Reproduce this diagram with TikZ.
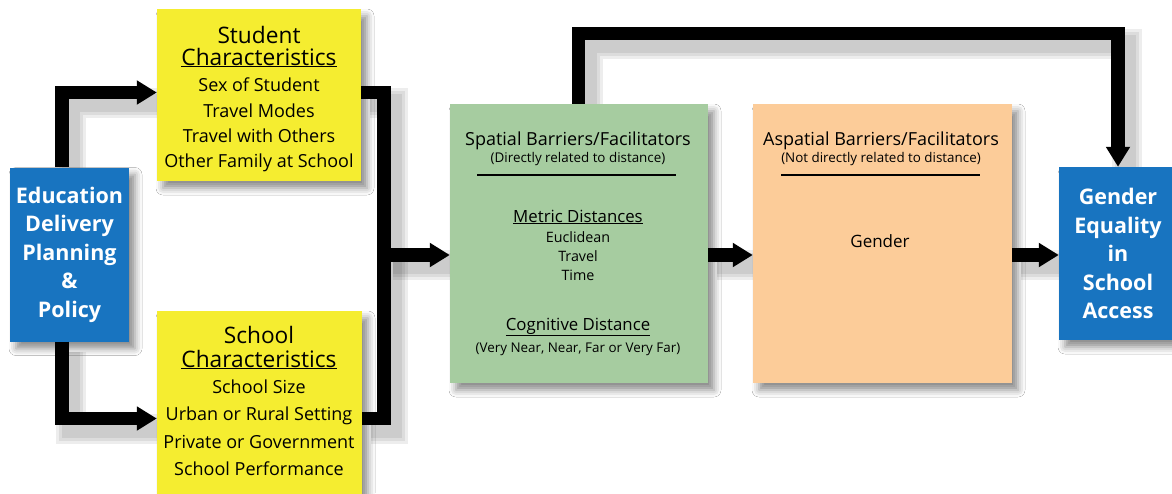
\documentclass[tikz,border=0pt]{standalone}
\usepackage{fontspec}
\setmainfont{Open Sans}
\usetikzlibrary{arrows.meta,shadows.blur}
\pgfdeclarelayer{back}
\pgfsetlayers{back,main}

\definecolor{policyblue}{RGB}{24,116,192}
\definecolor{charyellow}{RGB}{245,237,48}
\definecolor{spatialgreen}{RGB}{166,204,160}
\definecolor{aspatialorange}{RGB}{252,204,153}

\tikzset{
  box/.style={rectangle, inner sep=0pt, align=center,
    blur shadow={shadow xshift=6pt, shadow yshift=-7pt, shadow blur radius=7pt, shadow opacity=45}},
  bluebox/.style={box, fill=policyblue, text=white, font=\bfseries\fontsize{21.5}{28.5}\selectfont},
  boxtitle/.style={anchor=base, font=\fontsize{22.7}{24}\selectfont},
  item/.style={anchor=base, font=\fontsize{18}{20}\selectfont},
  heading/.style={anchor=base, font=\fontsize{18}{20}\selectfont},
  note/.style={anchor=base, font=\fontsize{13.4}{15}\selectfont},
  link/.style={line width=13.5pt, line join=miter},
  linkarrow/.style={link, -{Triangle[length=20pt,width=23pt]}},
  halo/.style={line width=#1pt, black, opacity=0.07, line join=miter},
}

% connectors: #1 plain lines, #2 lines with arrow tips
\newcommand\drawlinks[2]{%
  \draw[#2] ([xshift=-7.5pt]edu.north) |- ([yshift=2.5pt]stud.west);
  \draw[#2] ([xshift=-7.5pt]edu.south) |- ([yshift=-15.5pt]school.west);
  \draw[#1] ([yshift=2.5pt]stud.east) -| (join) |- ([yshift=-15.5pt]school.east);
  \draw[#2] (join) -- (spatial.west |- join);
  \draw[#2] (spatial.east |- join) -- (aspatial.west |- join);
  \draw[#2] (aspatial.east |- join) -- (gea.west |- join);
  \draw[#2] (spatial.north -| top) -- (top) -| (gea.north);
}

\begin{document}
\begin{tikzpicture}[x=1pt, y=-1pt]
\useasboundingbox (0,0) rectangle (1172,493);

% boxes
\node[bluebox, minimum width=119pt, minimum height=174pt] (edu) at (69.5,254.5)
  {Education\\Delivery\\Planning\\\&\\Policy};
\node[box, fill=charyellow, minimum width=204pt, minimum height=172pt] (stud) at (259,95) {};
\node[box, fill=charyellow, minimum width=205pt, minimum height=184pt] (school) at (259.5,403) {};
\node[box, fill=spatialgreen, minimum width=258pt, minimum height=279pt] (spatial) at (579,243.5) {};
\node[box, fill=aspatialorange, minimum width=259pt, minimum height=279pt] (aspatial) at (882.5,243.5) {};
\node[bluebox, minimum width=118pt, minimum height=173pt] (gea) at (1118,253.5)
  {Gender\\Equality\\in\\School\\Access};

% student characteristics
\node[boxtitle] (studtitle) at (259,43) {Student};
\node[boxtitle] (studsub) at (259,65) {\underline{Characteristics}};
\foreach \txt [count=\i] in {Sex of Student, Travel Modes, Travel with Others, Other Family at School}
  \node[item] (stud\i) at (259,{66.5+25.3*\i}) {\txt};

% school characteristics
\node[boxtitle] (schooltitle) at (259,343) {School};
\node[boxtitle] (schoolsub) at (259,367) {\underline{Characteristics}};
\foreach \txt [count=\i] in {School Size, Urban or Rural Setting, Private or Government, School Performance}
  \node[item] (school\i) at (259,{365.5+27.5*\i}) {\txt};

% spatial barriers
\node[heading] (sptitle) at (578,145) {Spatial Barriers/Facilitators};
\node[note] (spnote) at (578,162) {(Directly related to distance)};
\draw[line width=1.3pt] (477,175) -- (676,175);
\node[anchor=base, font=\fontsize{16.8}{18}\selectfont] (metric) at (578,222) {\underline{Metric Distances}};
\foreach \txt [count=\i] in {Euclidean, Travel, Time}
  \node[anchor=base, font=\fontsize{14.3}{16}\selectfont] (metric\i) at (578,{223+19*\i}) {\txt};
\node[anchor=base, font=\fontsize{16.8}{18}\selectfont] (cognitive) at (578,330) {\underline{Cognitive Distance}};
\node[note] (cognote) at (578,352) {(Very Near, Near, Far or Very Far)};

% aspatial barriers
\node[heading] (asptitle) at (881,145) {Aspatial Barriers/Facilitators};
\node[note] (aspnote) at (881,162) {(Not directly related to distance)};
\draw[line width=1.3pt] (781,175) -- (980,175);
\node[anchor=base, font=\fontsize{17}{18}\selectfont] (gender) at (880,247) {Gender};

\coordinate (join) at (384,255);
\coordinate (top) at (578.5,33.5);

\drawlinks{link}{linkarrow}

% soft shadows under the connectors
\begin{pgfonlayer}{back}
\fill[white] (0,0) rectangle (1172,493);
\begin{scope}[transform canvas={shift={(9,10)}}]
\foreach \w in {30,24,18}
  {\drawlinks{halo=\w}{halo=\w}}
\end{scope}
\end{pgfonlayer}
\end{tikzpicture}
\end{document}
